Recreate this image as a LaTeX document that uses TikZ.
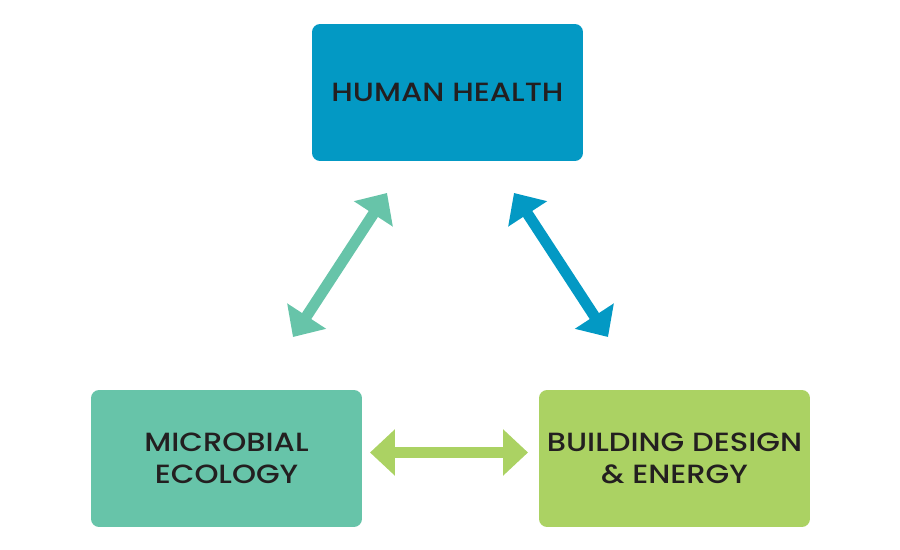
\documentclass[tikz,border=0pt]{standalone}
\usepackage{fontspec}
\setmainfont{Poppins}[UprightFont=* Medium,FakeStretch=1.16]
\usetikzlibrary{arrows.meta}
\definecolor{hhblue}{RGB}{3,153,196}
\definecolor{meteal}{RGB}{103,196,169}
\definecolor{bdgreen}{RGB}{171,210,99}
\definecolor{boxtext}{RGB}{35,31,32}
\tikzset{
  topic/.style={rectangle,rounded corners=0.16cm,minimum width=5.42cm,minimum height=2.74cm,
    align=center,text=boxtext,font=\fontsize{15}{18}\selectfont,inner sep=0pt},
  link/.style={{Triangle[length=0.5cm,width=0.9cm]}-{Triangle[length=0.5cm,width=0.9cm]},line width=0.22cm}
}
\begin{document}
\begin{tikzpicture}[x=0.02cm,y=-0.02cm]
  \useasboundingbox (0,0) rectangle (900,550);
  \node[topic,fill=hhblue] (health) at (447.5,92.5){HUMAN HEALTH};
  \node[topic,fill=meteal] (ecology) at (226.5,458.5){MICROBIAL\\ECOLOGY};
  \node[topic,fill=bdgreen] (building) at (674.5,458.5){BUILDING DESIGN\\\& ENERGY};
  % arrow ends
  \coordinate (he) at (387,193);
  \coordinate (eh) at (293,337);
  \coordinate (hb) at (514,193);
  \coordinate (bh) at (608,337);
  \coordinate (eb) at (370,452.5);
  \coordinate (be) at (528,452.5);
  \draw[link,meteal] (eh)--(he);
  \draw[link,hhblue] (hb)--(bh);
  \draw[link,bdgreen] (eb)--(be);
\end{tikzpicture}
\end{document}
